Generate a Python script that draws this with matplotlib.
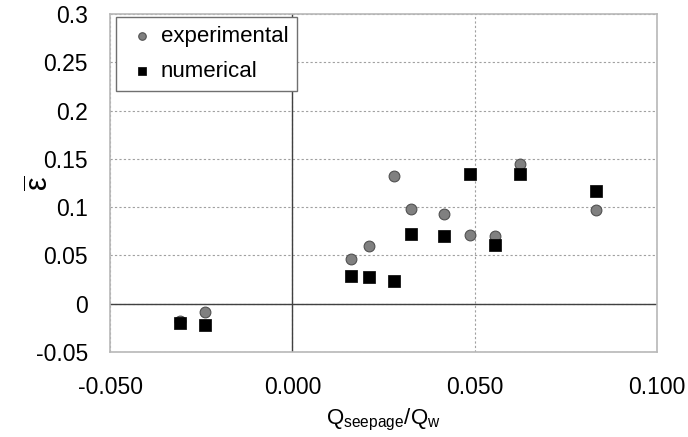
import matplotlib
matplotlib.use("Agg")
import matplotlib.pyplot as plt

plt.rcParams["font.family"] = ["Liberation Sans", "DejaVu Sans"]
plt.rcParams["mathtext.fontset"] = "custom"
plt.rcParams["mathtext.rm"] = "Liberation Sans"
plt.rcParams["mathtext.it"] = "Liberation Sans:italic"

exp_x = [-0.0309, -0.0240, 0.0162, 0.0209, 0.0278, 0.0324, 0.0416, 0.0486, 0.0555, 0.0624, 0.0832]
exp_y = [-0.0176, -0.0083, 0.0459, 0.0600, 0.1320, 0.0980, 0.0925, 0.0710, 0.0704, 0.1450, 0.0973]

# numerical data
num_x = [-0.0309, -0.0240, 0.0162, 0.0209, 0.0278, 0.0324, 0.0416, 0.0486, 0.0555, 0.0624, 0.0832]
num_y = [-0.0200, -0.0217, 0.0283, 0.0272, 0.0231, 0.0717, 0.0697, 0.1340, 0.0607, 0.1340, 0.1166]

xticks = [-0.05, 0.0, 0.05, 0.1]
xticklabels = ["-0.050", "0.000", "0.050", "0.100"]
yticks = [-0.05, 0, 0.05, 0.1, 0.15, 0.2, 0.25, 0.3]
yticklabels = ["-0.05", "0", "0.05", "0.1", "0.15", "0.2", "0.25", "0.3"]

fig = plt.figure(figsize=(6.88, 4.37), dpi=100)
ax = fig.add_axes([0.160, 0.1945, 0.795, 0.7735])

ax.set_xlim(-0.05, 0.1)
ax.set_ylim(-0.05, 0.3)
ax.set_xticks(xticks)
ax.set_xticklabels(xticklabels)
ax.set_yticks(yticks)
ax.set_yticklabels(yticklabels)
ax.tick_params(length=0, labelsize=16.5, colors="black")
ax.tick_params(axis="x", pad=17)
ax.tick_params(axis="y", pad=16)

ax.grid(True, linestyle=(0, (2, 2)), color="#a0a0a0", linewidth=0.8)
ax.set_axisbelow(True)
ax.axhline(0, color="#404040", linewidth=1.0, zorder=1)
ax.axvline(0, color="#404040", linewidth=1.0, zorder=1)
for s in ax.spines.values():
    s.set_color("#b8b8b8")
    s.set_linewidth(1.2)

ax.scatter(exp_x, exp_y, s=60, marker="o", facecolor="#808080",
           edgecolor="#505050", linewidth=0.8, label="experimental", zorder=3)
ax.scatter(num_x, num_y, s=70, marker="s", facecolor="black",
           edgecolor="black", linewidth=0.5, label="numerical", zorder=3)

leg = ax.legend(loc="upper left", bbox_to_anchor=(0.011, 0.991), fontsize=16,
                fancybox=False, framealpha=1, edgecolor="#707070",
                handletextpad=0.1, borderpad=0.4, labelspacing=0.62,
                handlelength=1.5, markerscale=0.7, borderaxespad=0)
leg.get_frame().set_linewidth(1.0)

ax.set_xlabel(r"$\mathregular{Q_{seepage}/Q_w}$", fontsize=16, labelpad=6)
ax.set_ylabel(r"$\overline{\mathregular{\varepsilon}}$", fontsize=22)
ax.yaxis.set_label_coords(-0.10, 0.5)

fig.savefig("out.png", dpi=100)
